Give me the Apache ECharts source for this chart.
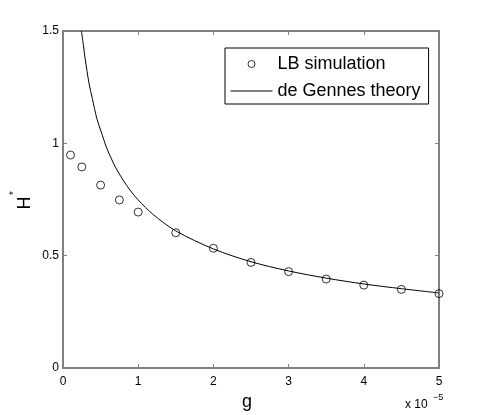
<!DOCTYPE html>
<html>
<head>
<meta charset="utf-8">
<script src="https://cdn.jsdelivr.net/npm/echarts@6/dist/echarts.min.js"></script>
<style>html,body{margin:0;padding:0;background:#fff;}#c{width:485px;height:415px;}</style>
</head>
<body>
<div id="c"></div>
<script>
// LB simulation points (g in units of 1e-5)
const simG = [0.1, 0.25, 0.5, 0.75, 1, 1.5, 2, 2.5, 3, 3.5, 4, 4.5, 5];
const simH = [0.948, 0.895, 0.814, 0.748, 0.694, 0.602, 0.533, 0.470, 0.429, 0.396, 0.369, 0.350, 0.331];
// de Gennes theory curve
const theoG = [0.245, 0.27, 0.293, 0.32, 0.35, 0.39, 0.45, 0.505, 0.58, 0.64, 0.7, 0.8, 0.9, 1.0, 1.2, 1.5, 2.0, 2.5, 3.0, 3.5, 4.0, 4.5, 5.0];
const theoH = [1.50, 1.44, 1.38, 1.32, 1.26, 1.20, 1.11, 1.054, 0.98, 0.934, 0.892, 0.836, 0.788, 0.748, 0.683, 0.610, 0.530, 0.473, 0.432, 0.400, 0.374, 0.353, 0.334];
const xTicks = [0, 1, 2, 3, 4, 5];
const yTicks = [0, 0.5, 1, 1.5];
const seriesNames = ['LB simulation', 'de Gennes theory'];

const FONT = '"Liberation Sans", Arial, Helvetica, sans-serif';
const AX = '#808080';

const chart = echarts.init(document.getElementById('c'), null, {renderer: 'canvas'});

function xAx(pos, show) {
  return {
    type: 'value', position: pos, min: xTicks[0], max: xTicks[xTicks.length - 1], interval: 1,
    axisLine: {show: true, onZero: false, lineStyle: {color: AX, width: 2}},
    axisTick: {show: true, inside: true, length: 4, lineStyle: {color: AX, width: 1}},
    axisLabel: {show: show, color: '#000', fontFamily: FONT, fontSize: 12, margin: 8},
    splitLine: {show: false}
  };
}
function yAx(pos, show) {
  return {
    type: 'value', position: pos, min: yTicks[0], max: yTicks[yTicks.length - 1], interval: 0.5,
    axisLine: {show: true, onZero: false, lineStyle: {color: AX, width: 2}},
    axisTick: {show: true, inside: true, length: 4, lineStyle: {color: AX, width: 1}},
    axisLabel: {show: show, color: '#000', fontFamily: FONT, fontSize: 12, margin: 4,
      formatter: v => String(v)},
    splitLine: {show: false}
  };
}

chart.setOption({
  backgroundColor: '#fff',
  animation: false,
  grid: {left: 63, right: 46, top: 31, bottom: 47, containLabel: false},
  xAxis: [xAx('bottom', true), xAx('top', false)],
  yAxis: [yAx('left', true), yAx('right', false)],
  legend: {
    orient: 'vertical', left: 225, top: 48,
    itemWidth: 42, itemHeight: 7, itemGap: 9,
    padding: [7, 8, 4, 5],
    borderColor: '#000', borderWidth: 1, backgroundColor: '#fff',
    textStyle: {color: '#000', fontFamily: FONT, fontSize: 18},
    data: [
      {name: seriesNames[0], itemStyle: {color: 'rgba(0,0,0,0)', borderColor: '#000', borderWidth: 1}},
      {name: seriesNames[1], itemStyle: {color: 'rgba(0,0,0,0)', borderWidth: 0, opacity: 0},
        lineStyle: {color: '#000', width: 1}}
    ]
  },
  series: [
    {
      name: seriesNames[0], type: 'scatter', xAxisIndex: 0, yAxisIndex: 0,
      symbol: 'circle', symbolSize: 8,
      itemStyle: {color: 'rgba(0,0,0,0)', borderColor: '#000', borderWidth: 1},
      data: simG.map((g, i) => [g, simH[i]]), z: 3
    },
    {
      name: seriesNames[1], type: 'line', xAxisIndex: 0, yAxisIndex: 0,
      symbol: 'none', smooth: 0.3,
      lineStyle: {color: '#000', width: 1},
      itemStyle: {color: '#000'},
      data: theoG.map((g, i) => [g, theoH[i]]), z: 2
    }
  ],
  graphic: [
    {type: 'text', x: 247, y: 402, style: {text: 'g', font: '18px ' + FONT, fill: '#000', align: 'center', verticalAlign: 'middle'}},
    {type: 'text', x: 25, y: 203, rotation: Math.PI / 2, style: {text: 'H', font: '18px ' + FONT, fill: '#000', align: 'center', verticalAlign: 'middle'}},
    {type: 'text', x: 14, y: 193, rotation: Math.PI / 2, style: {text: '*', font: '10px ' + FONT, fill: '#000', align: 'center', verticalAlign: 'middle'}},
    {type: 'text', x: 405, y: 405, style: {text: 'x 10', font: '12px ' + FONT, fill: '#000', align: 'left', verticalAlign: 'middle'}},
    {type: 'text', x: 433, y: 398, style: {text: '\u22125', font: '9px ' + FONT, fill: '#000', align: 'left', verticalAlign: 'middle'}}
  ]
});
</script>
</body>
</html>
